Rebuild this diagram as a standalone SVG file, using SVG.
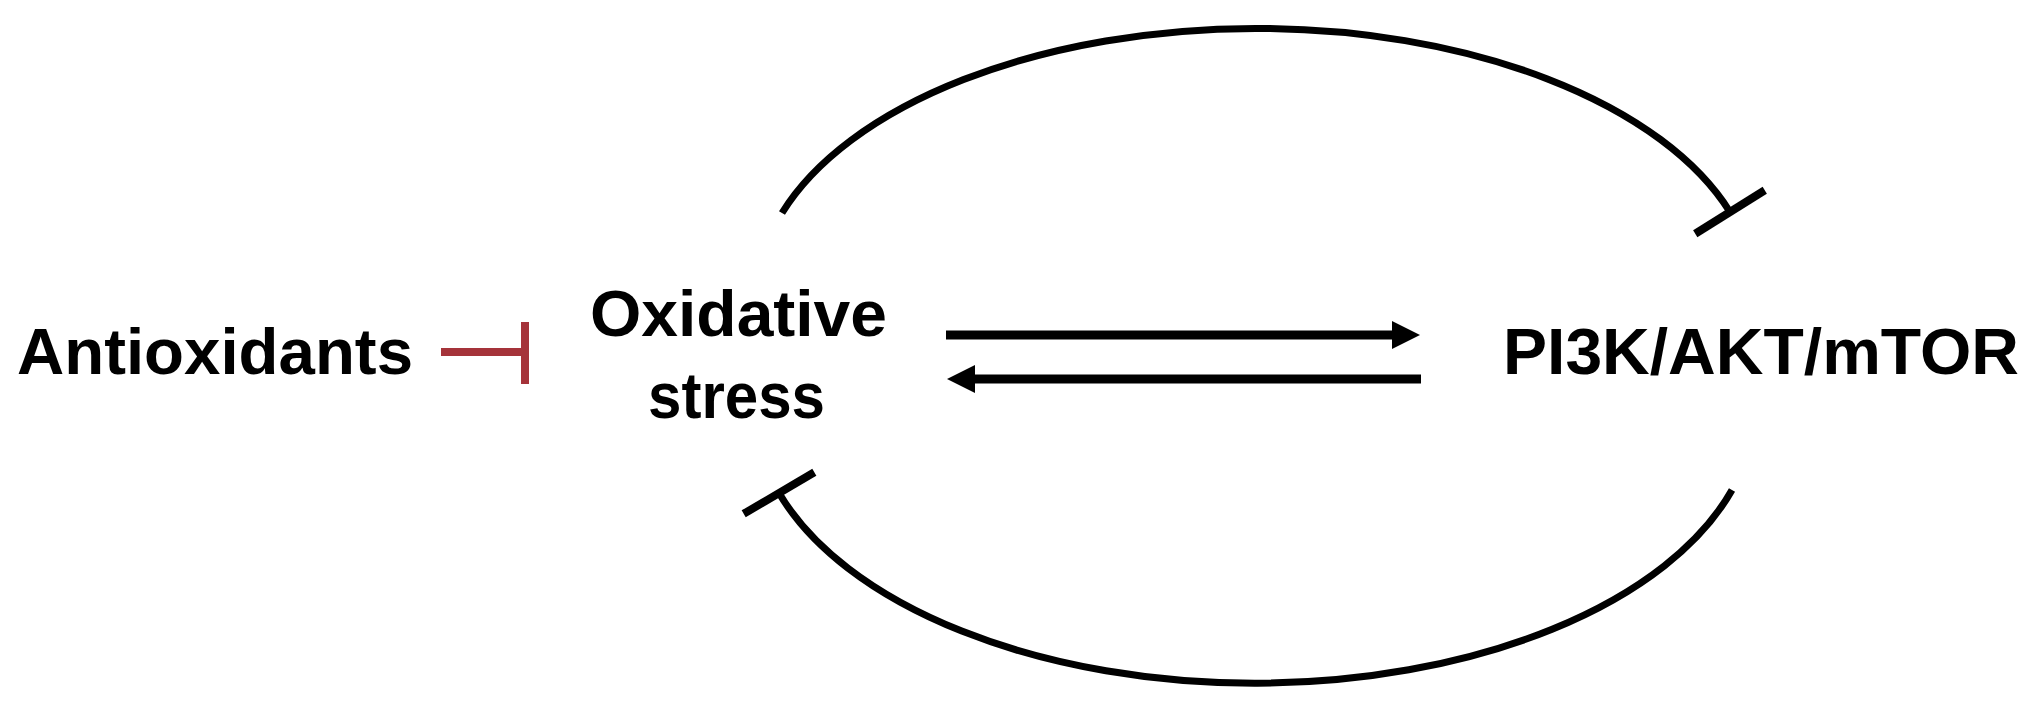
<svg xmlns="http://www.w3.org/2000/svg" width="2032" height="701" viewBox="0 0 2032 701">
  <style>
    .lbl { font-family: "Liberation Sans", Arial, sans-serif; font-weight: bold; font-size: 64px; fill: #000; }
    .arc { fill: none; stroke: #000; stroke-width: 7; }
    .arr { fill: none; stroke: #000; stroke-width: 9; }
    .red { fill: none; stroke: #A5333A; stroke-width: 8; }
  </style>
  <defs>
    <marker id="tbar" markerUnits="userSpaceOnUse" markerWidth="20" markerHeight="90" refX="10" refY="45" orient="auto">
      <line x1="10" y1="4" x2="10" y2="86" stroke="#000" stroke-width="8"/>
    </marker>
    <marker id="head" markerUnits="userSpaceOnUse" markerWidth="30" markerHeight="30" refX="2" refY="15" orient="auto">
      <polygon points="0,1 28,15 0,29" fill="#000"/>
    </marker>
  </defs>
  <rect width="2032" height="701" fill="#fff"/>

  <g id="connectors">
    <path class="arc" d="M 782 213 A 500 270 0 0 1 1730 212" marker-end="url(#tbar)"/>
    <path class="arc" d="M 1732 490 A 500 275 0 0 1 779 493" marker-end="url(#tbar)"/>
    <line class="arr" x1="946" y1="335" x2="1394" y2="335" marker-end="url(#head)"/>
    <line class="arr" x1="1421" y1="379" x2="973" y2="379" marker-end="url(#head)"/>
    <g id="antioxidant-inhibition">
      <line class="red" x1="441" y1="352" x2="525" y2="352"/>
      <line class="red" x1="525" y1="322" x2="525" y2="384"/>
    </g>
  </g>

  <g id="node-antioxidants">
    <text class="lbl" x="17" y="374" textLength="396" lengthAdjust="spacingAndGlyphs">Antioxidants</text>
  </g>
  <g id="node-oxidative-stress">
    <text class="lbl" x="590" y="336" textLength="297" lengthAdjust="spacingAndGlyphs">Oxidative</text>
    <text class="lbl" x="648" y="418" textLength="177" lengthAdjust="spacingAndGlyphs">stress</text>
  </g>
  <g id="node-pi3k">
    <text class="lbl" x="1503" y="374" textLength="516" lengthAdjust="spacingAndGlyphs">PI3K/AKT/mTOR</text>
  </g>
</svg>
